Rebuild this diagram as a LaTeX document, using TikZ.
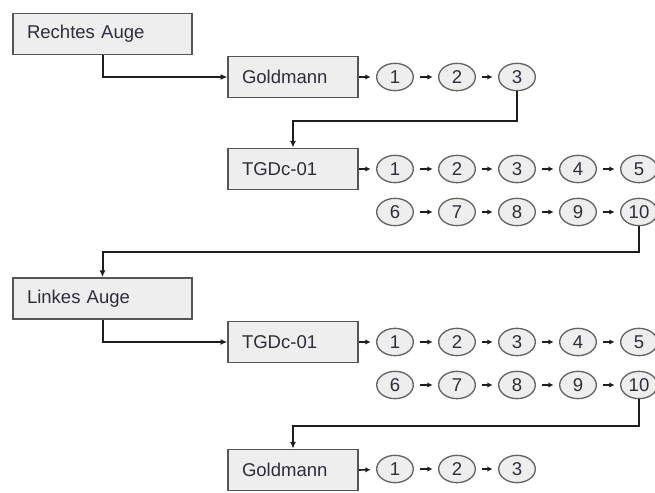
\documentclass[tikz,border=0pt]{standalone}
\usepackage{fontspec}
\setmainfont{Liberation Sans}
\usetikzlibrary{arrows.meta,shapes.geometric}

\tikzset{every picture/.style={line width=0.75pt}}
\tikzset{
  stepbox/.style={draw={rgb, 255:red, 85; green, 85; blue, 85}, fill={rgb, 255:red, 238; green, 238; blue, 238}, line width=1.1pt, minimum height=31pt, inner xsep=10.5pt, text width=76.5pt, align=left, font=\fontsize{13.9}{16}\selectfont, text={rgb, 255:red, 45; green, 45; blue, 60}},
  eyebox/.style={stepbox, text width=113.25pt},
  num/.style={ellipse, draw={rgb, 255:red, 100; green, 100; blue, 100}, fill={rgb, 255:red, 238; green, 238; blue, 238}, line width=1pt, minimum width=27.5pt, minimum height=20.5pt, inner sep=0pt, font=\fontsize{13.9}{16}\selectfont, text={rgb, 255:red, 45; green, 45; blue, 60}},
  link/.style={draw={rgb, 255:red, 30; green, 30; blue, 30}, line width=1.5pt, -{Latex[length=5pt,width=4.5pt]}},
  tick/.style={draw={rgb, 255:red, 30; green, 30; blue, 30}, line width=1.2pt, -{Latex[length=4pt,width=4pt]}, shorten <=4.5pt, shorten >=4pt}
}

\begin{document}
\begin{tikzpicture}[x=0.75pt,y=0.75pt,yscale=-1,xscale=1]
\useasboundingbox (0,0) rectangle (655,492);

%Boxes
\node [eyebox] (rechts) at (102.5,34) {Rechtes Auge};
\node [stepbox] (gold1) at (293,77) {Goldmann};
\node [stepbox] (tgdA) at (293,169) {TGDc-01};
\node [eyebox] (links) at (102.5,298.5) {Linkes Auge};
\node [stepbox] (tgdB) at (293,342) {TGDc-01};
\node [stepbox] (gold2) at (293,470) {Goldmann};

%Goldmann, rechts
\node [num] (ga1) at (395,77) {1};
\node [num] (ga2) at (457,77) {2};
\node [num] (ga3) at (517,77) {3};
%TGDc-01, rechts
\node [num] (ta1) at (395,169) {1};
\node [num] (ta2) at (457,169) {2};
\node [num] (ta3) at (517,169) {3};
\node [num] (ta4) at (578,169) {4};
\node [num] (ta5) at (639,169) {5};
\node [num] (ta6) at (395,212) {6};
\node [num] (ta7) at (457,212) {7};
\node [num] (ta8) at (517,212) {8};
\node [num] (ta9) at (578,212) {9};
\node [num] (ta10) at (639,212) {10};
%TGDc-01, links
\node [num] (tb1) at (395,342) {1};
\node [num] (tb2) at (457,342) {2};
\node [num] (tb3) at (517,342) {3};
\node [num] (tb4) at (578,342) {4};
\node [num] (tb5) at (639,342) {5};
\node [num] (tb6) at (395,385) {6};
\node [num] (tb7) at (457,385) {7};
\node [num] (tb8) at (517,385) {8};
\node [num] (tb9) at (578,385) {9};
\node [num] (tb10) at (639,385) {10};
%Goldmann, links
\node [num] (gb1) at (395,469) {1};
\node [num] (gb2) at (457,469) {2};
\node [num] (gb3) at (517,469) {3};

%Connectors between the blocks
\draw [link] (rechts.south) |- (gold1.west);
\draw [link] (ga3.south) -- ++(0,30) -| (tgdA.north);
\draw [link] (ta10.south) -- ++(0,26) -| (links.north);
\draw [link] (links.south) |- (tgdB.west);
\draw [link] (tb10.south) -- ++(0,27) -| (gold2.north);

%Short arrows
\draw [tick, shorten <=0pt] (gold1.east) -- (ga1);
\draw [tick] (ga1) -- (ga2);
\draw [tick] (ga2) -- (ga3);
\draw [tick, shorten <=0pt] (tgdA.east) -- (ta1);
\draw [tick] (ta1) -- (ta2);
\draw [tick] (ta2) -- (ta3);
\draw [tick] (ta3) -- (ta4);
\draw [tick] (ta4) -- (ta5);
\draw [tick] (ta6) -- (ta7);
\draw [tick] (ta7) -- (ta8);
\draw [tick] (ta8) -- (ta9);
\draw [tick] (ta9) -- (ta10);
\draw [tick, shorten <=0pt] (tgdB.east) -- (tb1);
\draw [tick] (tb1) -- (tb2);
\draw [tick] (tb2) -- (tb3);
\draw [tick] (tb3) -- (tb4);
\draw [tick] (tb4) -- (tb5);
\draw [tick] (tb6) -- (tb7);
\draw [tick] (tb7) -- (tb8);
\draw [tick] (tb8) -- (tb9);
\draw [tick] (tb9) -- (tb10);
\draw [tick, shorten <=0pt] (gold2.east) -- (gb1);
\draw [tick] (gb1) -- (gb2);
\draw [tick] (gb2) -- (gb3);

\end{tikzpicture}
\end{document}
